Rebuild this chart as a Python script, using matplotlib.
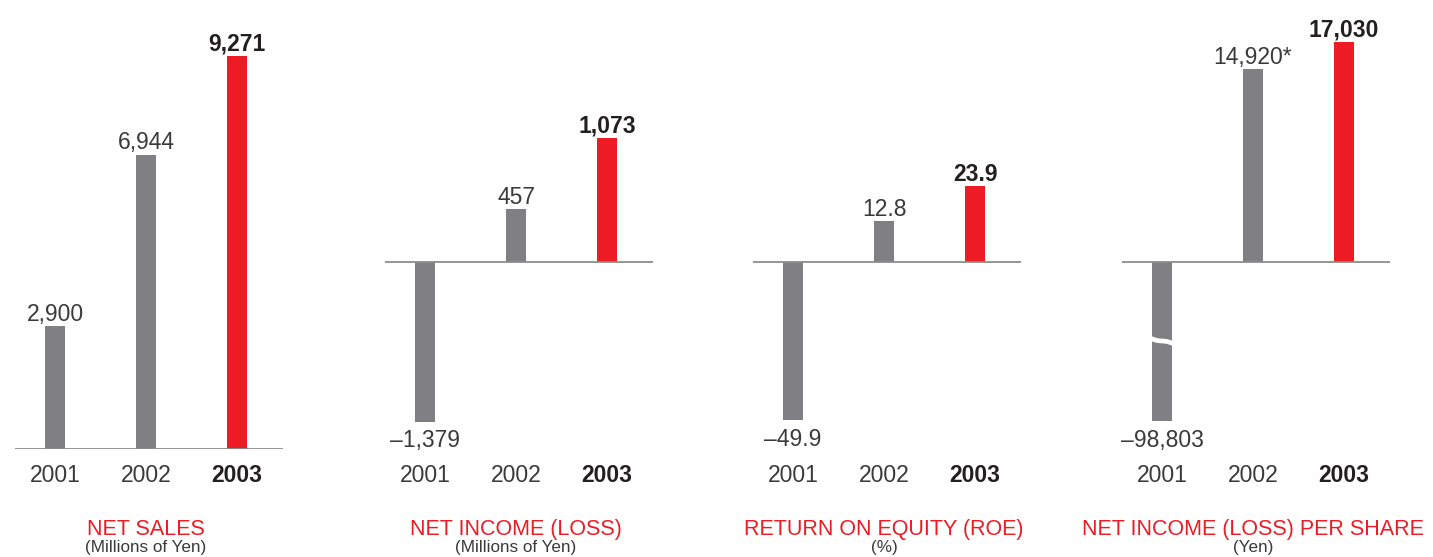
import numpy as np
import matplotlib
matplotlib.use("Agg")
import matplotlib.pyplot as plt
from matplotlib.transforms import blended_transform_factory

plt.rcParams['font.family'] = ['Liberation Sans', 'DejaVu Sans']

# data
years = ['2001', '2002', '2003']
net_sales = [2900, 6944, 9271]
net_income = [-1379, 457, 1073]
roe = [-49.9, 12.8, 23.9]
eps = [-98803, 14920, 17030]

sales_labels = ['2,900', '6,944', '9,271']
income_labels = ['\u20131,379', '457', '1,073']
roe_labels = ['\u201349.9', '12.8', '23.9']
eps_labels = ['\u201398,803', '14,920*', '17,030']

titles = ['NET SALES', 'NET INCOME (LOSS)', 'RETURN ON EQUITY (ROE)',
          'NET INCOME (LOSS) PER SHARE']
units = ['(Millions of Yen)', '(Millions of Yen)', '(%)', '(Yen)']

RED = '#ED1C24'
GREY = '#808084'
TXT = '#3a3a3a'
BOLD = '#231f20'
LINE = '#8c8c8c'

W, H = 1433, 557
fig = plt.figure(figsize=(W / 100, H / 100), dpi=100)

# panel layout in pixels: left edge of baseline, baseline px above axes bottom, units per px
panels = [
    (net_sales, sales_labels, 15, 0, 23.6),
    (net_income, income_labels, 385, 187, 8.63),
    (roe, roe_labels, 753, 187, 0.315),
    (eps, eps_labels, 1122, 187, 77.5),
]
ax_top, ax_bot = 30, 449
ax_h = ax_bot - ax_top
x = np.arange(3)
bar_w = 0.21

for i, (vals, labels, left, below, scale) in enumerate(panels):
    ax = fig.add_axes([left / W, (H - ax_bot) / H, 268 / W, ax_h / H])
    ax.set_xlim(-0.44, 2.505)
    ax.set_ylim(-below * scale, (ax_h - below) * scale)
    ax.axis('off')

    shown = list(vals)
    if i == 3:
        # axis break on the very large loss
        shown[0] = max(vals[0], -159 * scale)
    colors = [GREY, GREY, RED]
    ax.bar(x, shown, width=bar_w, color=colors, zorder=2)
    ax.axhline(0, color=LINE, lw=1.3, zorder=3)

    if i == 3:
        t = np.linspace(-1, 1, 80)
        bx = x[0] + t * (bar_w / 2 + 0.03)
        by = (-79 * scale - 3.0 * scale * np.sin(np.pi * t / 2)
              + 1.3 * scale * np.sin(np.pi * t))
        ax.plot(bx, by, color='white', lw=3.4, zorder=4, solid_capstyle='butt')

    for j, (v, lab) in enumerate(zip(shown, labels)):
        bold = j == 2
        kw = dict(ha='center', fontsize=16.5, color=BOLD if bold else TXT,
                  fontweight='bold' if bold else 'normal', textcoords='offset points')
        if v >= 0:
            ax.annotate(lab, (x[j], v), xytext=(0, 3.8), va='baseline', **kw)
        else:
            ax.annotate(lab, (x[j], v), xytext=(0, -5.5), va='top', **kw)

    tr = blended_transform_factory(ax.transData, fig.transFigure)
    for j, yr in enumerate(years):
        bold = j == 2
        ax.text(x[j], (H - 482) / H, yr, transform=tr, ha='center', va='baseline',
                fontsize=16.5, color=BOLD if bold else TXT,
                fontweight='bold' if bold else 'normal')
    ax.text(1, (H - 535) / H, titles[i], transform=tr, ha='center', va='baseline',
            fontsize=15.5, color=RED)
    ax.text(1, (H - 552) / H, units[i], transform=tr, ha='center', va='baseline',
            fontsize=12.3, color=TXT)

fig.savefig('out.png', dpi=100)
